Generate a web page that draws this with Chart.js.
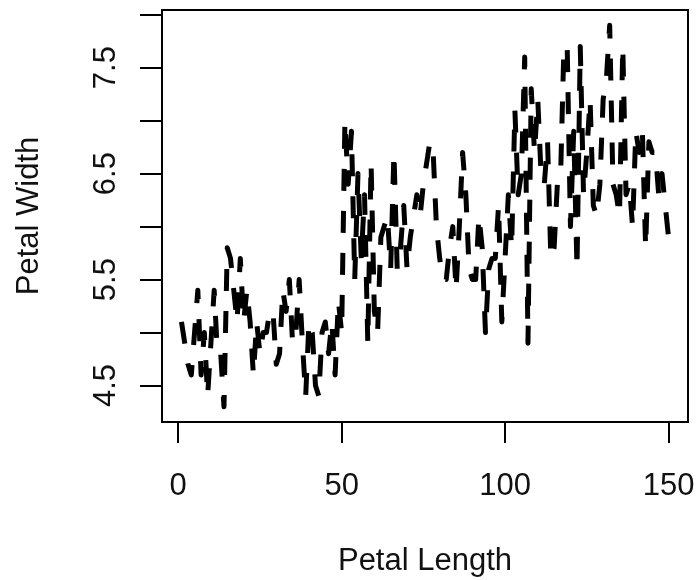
<!DOCTYPE html>
<html>
<head>
<meta charset="utf-8">
<script src="https://cdn.jsdelivr.net/npm/chart.js@4.4.1/dist/chart.umd.min.js"></script>
<style>
  body { margin: 0; background: #fff; }
  canvas { display: block; }
</style>
</head>
<body>
<canvas id="myChart" width="700" height="580"></canvas>
<script>
// measurements in plot order, 50 per group
let setosa = [
  5.1, 4.9, 4.7, 4.6, 5.0, 5.4, 4.6, 5.0, 4.4, 4.9,
  5.4, 4.8, 4.8, 4.3, 5.8, 5.7, 5.4, 5.1, 5.7, 5.1,
  5.4, 5.1, 4.6, 5.1, 4.8, 5.0, 5.0, 5.2, 5.2, 4.7,
  4.8, 5.4, 5.2, 5.5, 4.9, 5.0, 5.5, 4.9, 4.4, 5.1,
  5.0, 4.5, 4.4, 5.0, 5.1, 4.8, 5.1, 4.6, 5.3, 5.0
];
let versicolor = [
  7.0, 6.4, 6.9, 5.5, 6.5, 5.7, 6.3, 4.9, 6.6, 5.2,
  5.0, 5.9, 6.0, 6.1, 5.6, 6.7, 5.6, 5.8, 6.2, 5.6,
  5.9, 6.1, 6.3, 6.1, 6.4, 6.6, 6.8, 6.7, 6.0, 5.7,
  5.5, 5.5, 5.8, 6.0, 5.4, 6.0, 6.7, 6.3, 5.6, 5.5,
  5.5, 6.1, 5.8, 5.0, 5.6, 5.7, 5.7, 6.2, 5.1, 5.7
];
let virginica = [
  6.3, 5.8, 7.1, 6.3, 6.5, 7.6, 4.9, 7.3, 6.7, 7.2,
  6.5, 6.4, 6.8, 5.7, 5.8, 6.4, 6.5, 7.7, 7.7, 6.0,
  6.9, 5.6, 7.7, 6.3, 6.7, 7.2, 6.2, 6.1, 6.4, 7.2,
  7.4, 7.9, 6.4, 6.3, 6.1, 7.7, 6.3, 6.4, 6.0, 6.9,
  6.7, 6.9, 5.8, 6.8, 6.7, 6.7, 6.3, 6.5, 6.2, 5.9
];

let xTicks = [0, 50, 100, 150];
let yTicks = [4.5, 5.0, 5.5, 6.0, 6.5, 7.0, 7.5, 8.0];
let yTickLabels = ["4.5", "", "5.5", "", "6.5", "", "7.5", ""];

let xTitle = "Petal Length";
let yTitle = "Petal Width";

// observation number goes on x
let values = setosa.concat(versicolor, virginica);
let points = values.map((v, i) => {
  return { x: i + 1, y: v };
});

const FONT = "31px 'Liberation Sans', Arial, sans-serif";

// box, ticks and labels drawn R style around the plot region
const axesPlugin = {
  id: "rAxes",
  afterDraw(chart) {
    let ctx = chart.ctx;
    let area = chart.chartArea;
    let xs = chart.scales.x;
    let ys = chart.scales.y;

    ctx.save();
    ctx.strokeStyle = "#000";
    ctx.lineWidth = 2;
    ctx.strokeRect(area.left, area.top, area.right - area.left, area.bottom - area.top);

    ctx.beginPath();
    xTicks.forEach(t => {
      let px = Math.round(xs.getPixelForValue(t));
      ctx.moveTo(px, area.bottom);
      ctx.lineTo(px, area.bottom + 21);
    });
    yTicks.forEach(t => {
      let py = Math.round(ys.getPixelForValue(t));
      ctx.moveTo(area.left, py);
      ctx.lineTo(area.left - 22, py);
    });
    ctx.stroke();

    ctx.fillStyle = "#111";
    ctx.font = FONT;
    ctx.textAlign = "center";
    ctx.textBaseline = "alphabetic";

    xTicks.forEach(t => {
      ctx.fillText(String(t), xs.getPixelForValue(t), 495);
    });
    ctx.fillText(xTitle, (area.left + area.right) / 2, 570);

    yTicks.forEach((t, i) => {
      if (!yTickLabels[i]) return;
      ctx.save();
      ctx.translate(115, ys.getPixelForValue(t));
      ctx.rotate(-Math.PI / 2);
      ctx.fillText(yTickLabels[i], 0, 0);
      ctx.restore();
    });

    ctx.save();
    ctx.translate(38, (area.top + area.bottom) / 2);
    ctx.rotate(-Math.PI / 2);
    ctx.fillText(yTitle, 0, 0);
    ctx.restore();

    ctx.restore();
  }
};

let ctx = document.getElementById("myChart").getContext("2d");

// one dashed polyline through all observations
let myChart = new Chart(ctx, {
  type: "scatter",
  data: {
    datasets: [
      {
        data: points,
        showLine: true,
        pointRadius: 0,
        pointHoverRadius: 0,
        borderWidth: 5,
        borderColor: "#000",
        borderDash: [22, 20],
        borderJoinStyle: "round",
        borderCapStyle: "butt",
        clip: false
      }
    ]
  },
  options: {
    responsive: false,
    animation: false,
    events: [],
    layout: {
      padding: { left: 162, top: 10, right: 12, bottom: 158 }
    },
    plugins: {
      legend: { display: false },
      tooltip: { enabled: false }
    },
    scales: {
      x: { type: "linear", min: -4.96, max: 155.96, display: false },
      y: { type: "linear", min: 4.156, max: 8.044, display: false }
    }
  },
  plugins: [axesPlugin]
});
</script>
</body>
</html>
